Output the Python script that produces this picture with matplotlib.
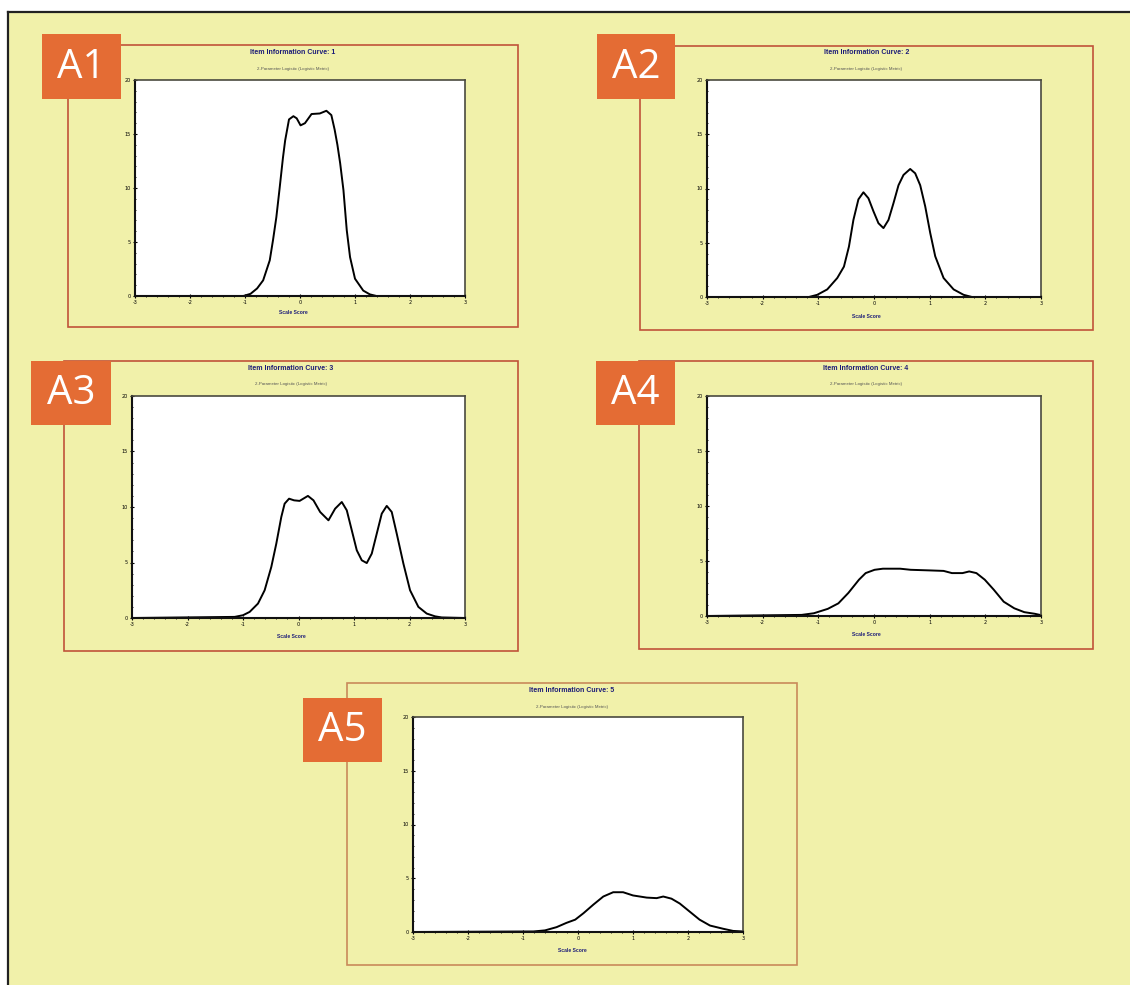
import matplotlib
matplotlib.use("Agg")
import matplotlib.pyplot as plt
from matplotlib.patches import Rectangle
from matplotlib.ticker import MultipleLocator

plt.rcParams['axes.unicode_minus'] = False

# item information curves
a1_x = [-3.0, -1.03, -0.9, -0.78, -0.67, -0.55, -0.49, -0.43, -0.37, -0.31, -0.27, -0.2, -0.12, -0.06, 0.01,
        0.09, 0.21, 0.36, 0.48, 0.57, 0.63, 0.68, 0.73, 0.79, 0.85, 0.91, 1.0, 1.15, 1.27, 1.39, 3.0]
a1_y = [0.0, 0.0, 0.2, 0.7, 1.45, 3.3, 5.2, 7.3, 10.0, 12.8, 14.4, 16.35, 16.65, 16.45, 15.8,
        16.0, 16.85, 16.9, 17.15, 16.75, 15.4, 14.0, 12.3, 9.8, 6.1, 3.6, 1.6, 0.5, 0.15, 0.0, 0.0]

a2_x = [-3.0, -1.17, -1.02, -0.84, -0.66, -0.54, -0.45, -0.37, -0.28, -0.19, -0.10, -0.01, 0.08, 0.17,
        0.26, 0.35, 0.44, 0.53, 0.65, 0.74, 0.83, 0.92, 1.01, 1.10, 1.25, 1.43, 1.61, 1.76, 3.0]
a2_y = [0.0, 0.0, 0.2, 0.7, 1.75, 2.8, 4.65, 7.1, 9.0, 9.65, 9.1, 7.9, 6.8, 6.35,
        7.1, 8.65, 10.3, 11.25, 11.8, 11.4, 10.3, 8.35, 5.9, 3.75, 1.75, 0.7, 0.2, 0.0, 0.0]

a3_x = [-3.0, -1.15, -1.0, -0.88, -0.73, -0.61, -0.49, -0.40, -0.31, -0.25, -0.17, -0.08, 0.02, 0.17,
        0.27, 0.39, 0.54, 0.66, 0.78, 0.87, 0.96, 1.05, 1.14, 1.23, 1.32, 1.41, 1.50, 1.59, 1.68,
        1.77, 1.89, 2.01, 2.16, 2.31, 2.46, 2.58, 3.0]
a3_y = [0.0, 0.1, 0.25, 0.55, 1.3, 2.5, 4.6, 6.7, 9.1, 10.3, 10.75, 10.6, 10.55, 11.0,
        10.6, 9.55, 8.8, 9.85, 10.45, 9.7, 7.9, 6.1, 5.2, 4.95, 5.8, 7.6, 9.4, 10.1, 9.55,
        7.6, 4.9, 2.5, 1.0, 0.4, 0.15, 0.05, 0.0]

a4_x = [-3.0, -1.30, -1.08, -0.83, -0.64, -0.46, -0.27, -0.15, 0.01, 0.16, 0.47, 0.66, 0.97, 1.25,
        1.40, 1.59, 1.71, 1.84, 1.99, 2.15, 2.33, 2.52, 2.70, 2.89, 2.98]
a4_y = [0.0, 0.1, 0.25, 0.65, 1.15, 2.1, 3.3, 3.9, 4.2, 4.3, 4.3, 4.2, 4.15, 4.1,
        3.9, 3.9, 4.05, 3.9, 3.3, 2.4, 1.3, 0.7, 0.35, 0.2, 0.1]

a5_x = [-3.0, -0.81, -0.60, -0.39, -0.21, -0.05, 0.10, 0.28, 0.46, 0.64, 0.82, 1.0, 1.25, 1.43,
        1.55, 1.70, 1.85, 2.03, 2.21, 2.40, 2.64, 2.82, 3.0]
a5_y = [0.0, 0.05, 0.15, 0.45, 0.85, 1.15, 1.75, 2.55, 3.3, 3.7, 3.7, 3.4, 3.2, 3.15,
        3.3, 3.1, 2.65, 1.9, 1.15, 0.6, 0.3, 0.1, 0.05]

labels = ["A1", "A2", "A3", "A4", "A5"]
item_nums = [1, 2, 3, 4, 5]
curves = [(a1_x, a1_y), (a2_x, a2_y), (a3_x, a3_y), (a4_x, a4_y), (a5_x, a5_y)]
x_ticks = [-3, -2, -1, 0, 1, 2, 3]
y_ticks = [0, 5, 10, 15, 20]

W, H = 1130, 985
BG = '#f1f1aa'
ORANGE = '#e46c34'
NAVY = '#1c1c78'

# pixel layout: frame box, label box, plot box, title y, subtitle y, xlabel y
layout = [
    dict(frame=(68, 45, 518, 327), lab=(42, 34, 121, 99), plot=(135, 80, 465, 296), ty=(53, 69, 313), fc='#c0533a'),
    dict(frame=(640, 46, 1093, 330), lab=(597, 34, 675, 99), plot=(707, 80, 1041, 297), ty=(53, 69, 316), fc='#c0533a'),
    dict(frame=(64, 361, 518, 651), lab=(31, 361, 111, 425), plot=(132, 396, 465, 618), ty=(368, 384, 636), fc='#c0533a'),
    dict(frame=(639, 361, 1093, 649), lab=(596, 361, 675, 425), plot=(707, 396, 1041, 616), ty=(368, 384, 635), fc='#c0533a'),
    dict(frame=(347, 683, 797, 965), lab=(303, 698, 382, 762), plot=(413, 717, 743, 932), ty=(690, 707, 950), fc='#c98a5a'),
]


def fx(px):
    return px / W


def fy(py):
    return 1 - py / H


def box(x0, y0, x1, y1):
    return [fx(x0), fy(y1), (x1 - x0) / W, (y1 - y0) / H]


fig = plt.figure(figsize=(W / 100, H / 100), dpi=100)
fig.patch.set_facecolor('white')

# yellow page with black top/left edge
fig.add_artist(Rectangle((fx(8), 0), 1 - fx(8), fy(12), transform=fig.transFigure,
                         facecolor=BG, edgecolor='none', zorder=-10))
fig.add_artist(plt.Line2D([fx(8), 1], [fy(12), fy(12)], transform=fig.transFigure, color='#222222', lw=1.6))
fig.add_artist(plt.Line2D([fx(8), fx(8)], [0, fy(12)], transform=fig.transFigure, color='#222222', lw=1.6))

for i, (lab, num, (xs, ys), L) in enumerate(zip(labels, item_nums, curves, layout)):
    x0, y0, x1, y1 = L['frame']
    fig.add_artist(Rectangle((fx(x0), fy(y1)), (x1 - x0) / W, (y1 - y0) / H, transform=fig.transFigure,
                             facecolor='none', edgecolor=L['fc'], lw=1.2, zorder=1))
    cx = (x0 + x1) / 2
    ty, sy, xy = L['ty']
    fig.text(fx(cx), fy(ty), f"Item Information Curve: {num}", ha='center', va='center',
             fontsize=5, fontweight='bold', color=NAVY, family='Liberation Sans')
    fig.text(fx(cx), fy(sy), "2-Parameter Logistic (Logistic Metric)", ha='center', va='center',
             fontsize=3.2, color='#555555', family='Liberation Sans')
    fig.text(fx(cx), fy(xy), "Scale Score", ha='center', va='center',
             fontsize=3.6, fontweight='bold', color=NAVY, family='Liberation Sans')

    ax = fig.add_axes(box(*L['plot']))
    ax.set_facecolor('white')
    ax.plot(xs, ys, color='black', lw=1.4, solid_joinstyle='round')
    ax.set_xlim(-3, 3)
    ax.set_ylim(0, 20)
    ax.set_xticks(x_ticks)
    ax.set_yticks(y_ticks)
    ax.xaxis.set_minor_locator(MultipleLocator(0.2))
    ax.yaxis.set_minor_locator(MultipleLocator(1))
    ax.tick_params(which='major', direction='inout', length=3, width=0.8, labelsize=3.5, pad=1.5)
    ax.tick_params(which='minor', direction='inout', length=1.8, width=0.6)
    for side in ['left', 'bottom']:
        ax.spines[side].set_linewidth(1.5)
        ax.spines[side].set_color('#111111')
    for side in ['top', 'right']:
        ax.spines[side].set_linewidth(1.2)
        ax.spines[side].set_color('#4a4a40')

    lx0, ly0, lx1, ly1 = L['lab']
    fig.add_artist(Rectangle((fx(lx0), fy(ly1)), (lx1 - lx0) / W, (ly1 - ly0) / H, transform=fig.transFigure,
                             facecolor=ORANGE, edgecolor='none', zorder=2))
    fig.text(fx((lx0 + lx1) / 2), fy((ly0 + ly1) / 2 + 1), lab, ha='center', va='center',
             fontsize=29, color='white', family='Open Sans', zorder=3)

plt.savefig("out.png", dpi=100, facecolor=fig.get_facecolor())
